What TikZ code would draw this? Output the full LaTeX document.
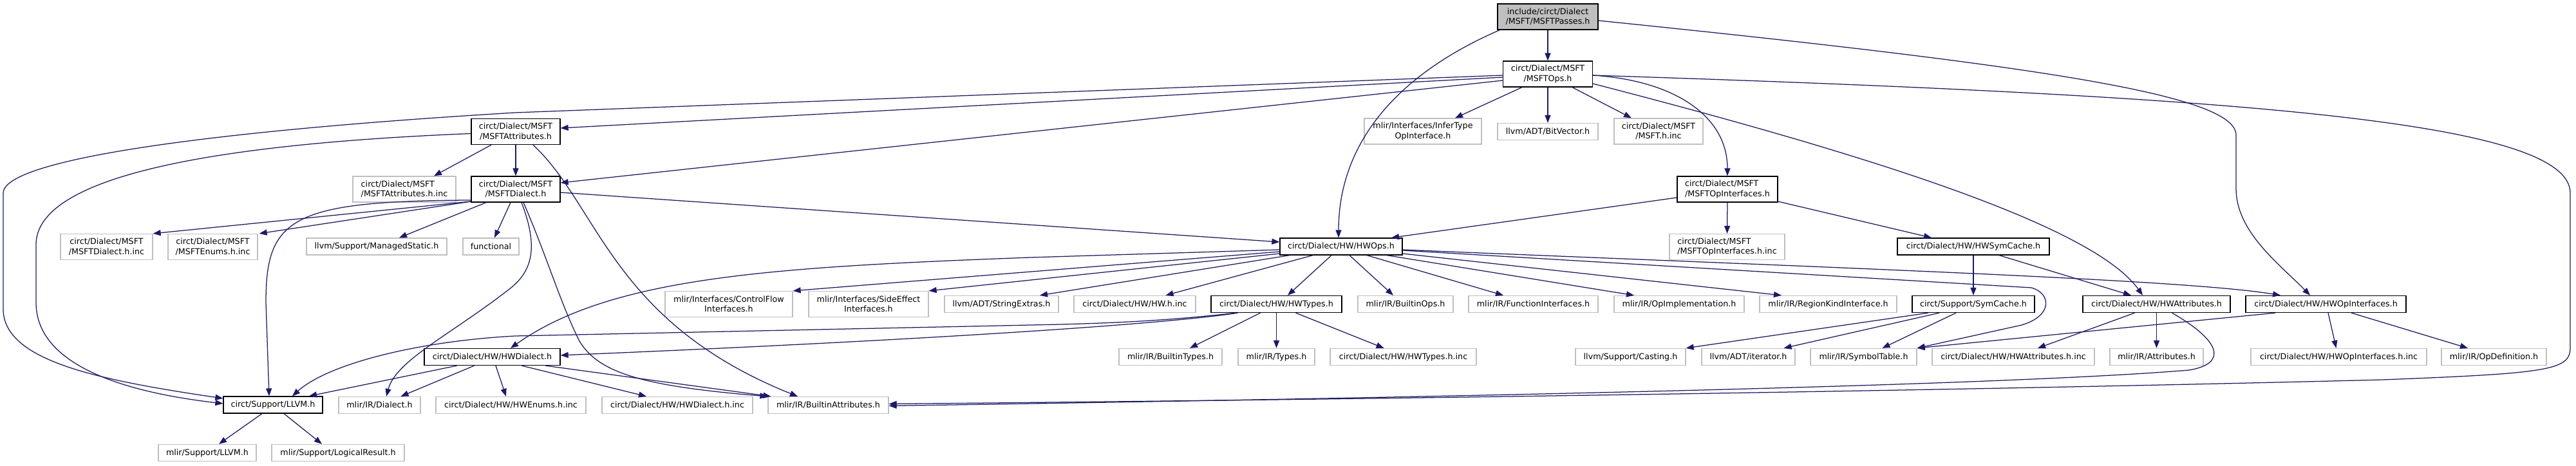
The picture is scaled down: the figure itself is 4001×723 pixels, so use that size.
\documentclass[tikz,border=0pt]{standalone}
\usepackage{fontspec}
\newfontfamily\djfont{DejaVu Sans}
\usetikzlibrary{arrows.meta}
\definecolor{mb}{HTML}{191970}
\definecolor{grey75}{HTML}{BFBFBF}
\tikzset{
  base/.style={rectangle, line width=1.26pt, inner xsep=2pt, inner ysep=1pt,
    minimum height=26pt, align=center, text=black,
    font={\djfont\fontsize{12.7}{15.5}\selectfont}},
  bn/.style={base, draw=black, fill=white},
  gn/.style={base, draw=grey75, fill=white},
  rn/.style={base, draw=black, fill=grey75},
  two/.style={minimum height=40pt},
  e/.style={draw=mb, line width=1.26pt, -{Triangle[length=12pt,width=9pt]}},
}
\begin{document}
\begin{tikzpicture}[x=1pt,y=-1pt]
\fill[white] (0,0) rectangle (4001,723);
\useasboundingbox (0,0) rectangle (4001,723);
% rank 1-3
\node[rn,two,minimum width=156pt] (root) at (2404,26) {include/circt/Dialect\\/MSFT/MSFTPasses.h};
\node[bn,two,minimum width=139pt] (ops) at (2404,115) {circt/Dialect/MSFT\\/MSFTOps.h};
\node[bn,two,minimum width=138pt] (attr) at (801,204.5) {circt/Dialect/MSFT\\/MSFTAttributes.h};
\node[gn,two,minimum width=182pt] (infer) at (2210,204) {mlir/Interfaces/InferType\\OpInterface.h};
\node[gn,minimum width=156pt] (bitvec) at (2404,204.5) {llvm/ADT/BitVector.h};
\node[gn,two,minimum width=138pt] (msfthinc) at (2576,204) {circt/Dialect/MSFT\\/MSFT.h.inc};
% rank 4
\node[gn,two,minimum width=160pt,align=left] (attrinc) at (628,294) {circt/Dialect/MSFT\\/MSFTAttributes.h.inc};
\node[bn,two,minimum width=138pt] (dialect) at (801,294) {circt/Dialect/MSFT\\/MSFTDialect.h};
\node[bn,two,minimum width=156pt,align=left] (opif) at (2683,294) {circt/Dialect/MSFT\\/MSFTOpInterfaces.h};
% rank 5
\node[gn,two,minimum width=143pt] (dialinc) at (165.5,383.5) {circt/Dialect/MSFT\\/MSFTDialect.h.inc};
\node[gn,two,minimum width=139pt] (enumsinc) at (330.5,383.5) {circt/Dialect/MSFT\\/MSFTEnums.h.inc};
\node[gn,minimum width=218pt] (managed) at (585,383) {llvm/Support/ManagedStatic.h};
\node[gn,minimum width=87pt] (functional) at (762.5,383) {functional};
\node[bn,minimum width=190pt] (hwops) at (2083,383) {circt/Dialect/HW/HWOps.h};
\node[gn,two,minimum width=179pt,align=left] (opifinc) at (2682.5,383.5) {circt/Dialect/MSFT\\/MSFTOpInterfaces.h.inc};
\node[bn,minimum width=236pt] (hwsymcache) at (3065,383) {circt/Dialect/HW/HWSymCache.h};
% rank 6
\node[gn,two,minimum width=198pt] (cf) at (1132,472.5) {mlir/Interfaces/ControlFlow\\Interfaces.h};
\node[gn,two,minimum width=186pt] (se) at (1349,472.5) {mlir/Interfaces/SideEffect\\Interfaces.h};
\node[gn,minimum width=177pt] (strext) at (1555.5,472.5) {llvm/ADT/StringExtras.h};
\node[gn,minimum width=189pt] (hwhinc) at (1762.5,472.5) {circt/Dialect/HW/HW.h.inc};
\node[bn,minimum width=203pt] (hwtypes) at (1982.5,472.5) {circt/Dialect/HW/HWTypes.h};
\node[gn,minimum width=148pt] (builtinops) at (2183,472.5) {mlir/IR/BuiltinOps.h};
\node[gn,minimum width=201pt] (funcif) at (2381.5,472.5) {mlir/IR/FunctionInterfaces.h};
\node[gn,minimum width=202pt] (opimpl) at (2608,472.5) {mlir/IR/OpImplementation.h};
\node[gn,minimum width=213pt] (regionkind) at (2839.5,472.5) {mlir/IR/RegionKindInterface.h};
\node[bn,minimum width=190pt] (symcache) at (3065,472.5) {circt/Support/SymCache.h};
\node[bn,minimum width=229pt] (hwattr) at (3349.5,472.5) {circt/Dialect/HW/HWAttributes.h};
\node[bn,minimum width=249pt] (hwopif) at (3612.5,472.5) {circt/Dialect/HW/HWOpInterfaces.h};
% rank 7
\node[bn,minimum width=211pt] (hwdialect) at (764.5,554.5) {circt/Dialect/HW/HWDialect.h};
\node[gn,minimum width=160pt] (btypes) at (1818,554.5) {mlir/IR/BuiltinTypes.h};
\node[gn,minimum width=119pt] (types) at (1982.5,554.5) {mlir/IR/Types.h};
\node[gn,minimum width=227pt] (hwtypesinc) at (2179.5,554.5) {circt/Dialect/HW/HWTypes.h.inc};
\node[gn,minimum width=171pt] (casting) at (2532.5,554.5) {llvm/Support/Casting.h};
\node[gn,minimum width=145pt] (iterator) at (2715.5,554.5) {llvm/ADT/iterator.h};
\node[gn,minimum width=165pt] (symtab) at (2894.5,554.5) {mlir/IR/SymbolTable.h};
\node[gn,minimum width=252pt] (hwattrinc) at (3127,554.5) {circt/Dialect/HW/HWAttributes.h.inc};
\node[gn,minimum width=145pt] (attrs) at (3349.5,554.5) {mlir/IR/Attributes.h};
\node[gn,minimum width=273pt] (hwopifinc) at (3632.5,554.5) {circt/Dialect/HW/HWOpInterfaces.h.inc};
\node[gn,minimum width=163pt] (opdef) at (3873.5,554.5) {mlir/IR/OpDefinition.h};
% rank 8
\node[bn,minimum width=154pt] (llvm) at (424,629) {circt/Support/LLVM.h};
\node[gn,minimum width=127pt] (irdialect) at (589.5,629.5) {mlir/IR/Dialect.h};
\node[gn,minimum width=233pt] (hwenumsinc) at (793.5,629.5) {circt/Dialect/HW/HWEnums.h.inc};
\node[gn,minimum width=234pt] (hwdialinc) at (1052,629.5) {circt/Dialect/HW/HWDialect.h.inc};
\node[gn,minimum width=187pt] (battr) at (1286.5,629.5) {mlir/IR/BuiltinAttributes.h};
% rank 9
\node[gn,minimum width=152pt] (mlirllvm) at (322,703.5) {mlir/Support/LLVM.h};
\node[gn,minimum width=206pt] (logres) at (525,703.5) {mlir/Support/LogicalResult.h};

% edges from root
\draw[e] (root.south) -- (ops.north);
\draw[e] ([xshift=4pt]root.south west) .. controls (2160,120) and (2079,230) .. ([xshift=-4pt]hwops.north);
\draw[e] ([yshift=-6pt]root.east) .. controls (3200,105) and (3473,150) .. (3473,210) -- (3473,293) .. controls (3473,360) and (3540,410) .. ([xshift=-24.5pt]hwopif.north);
% edges from MSFTOps
\draw[e] ([yshift=-5pt]ops.west) -- ([yshift=5.5pt]attr.east);
\draw[e] ([yshift=-2pt]ops.west) -- (800,175) .. controls (300,205) and (5,250) .. (5,300) -- (5,480) .. controls (5,560) and (150,590) .. ([yshift=10pt]llvm.west);
\draw[e] ([yshift=-10pt]ops.west) -- ([yshift=10pt]dialect.east);
\draw[e] ([xshift=-40pt]ops.south) -- ([xshift=50pt]infer.north);
\draw[e] (ops.south) -- (bitvec.north);
\draw[e] ([xshift=38pt]ops.south) -- ([xshift=-42pt]msfthinc.north);
\draw[e] ([yshift=-2pt]ops.east) .. controls (2600,125) and (2683,180) .. (opif.north);
\draw[e] ([yshift=-15pt]ops.east) .. controls (2900,240) and (3250,350) .. ([xshift=-21.5pt]hwattr.north);
\draw[e] ([yshift=-2pt]ops.east) .. controls (3500,150) and (3992,190) .. (3992,300) -- (3992,540) .. controls (3992,575) and (3960,580) .. (3700,590) .. controls (3000,608) and (2000,622) .. ([yshift=2pt]battr.east);
% edges from MSFTAttributes
\draw[e] ([xshift=-38pt]attr.south) -- ([xshift=46pt]attrinc.north);
\draw[e] (attr.south) -- (dialect.north);
\draw[e] ([yshift=-3pt]attr.west) .. controls (300,225) and (56,280) .. (56,380) -- (56,470) .. controls (56,570) and (200,610) .. ([yshift=2pt]llvm.west);
\draw[e] ([xshift=27pt]attr.south) .. controls (930,320) and (950,500) .. ([xshift=-47.5pt]battr.north);
% edges from MSFTDialect
\draw[e] ([yshift=-19pt]dialect.west) -- (dialinc.north east);
\draw[e] ([yshift=-19pt]dialect.west) -- ([xshift=2pt]enumsinc.north east);
\draw[e] ([yshift=-17pt]dialect.west) .. controls (450,312) and (413,340) .. (413,470) -- ([xshift=-6pt]llvm.north);
\draw[e] ([xshift=-46pt]dialect.south) -- ([xshift=35pt]managed.north);
\draw[e] ([xshift=-8pt]dialect.south) -- ([xshift=5.5pt]functional.north);
\draw[e] ([yshift=-5pt]dialect.east) -- ([yshift=7pt]hwops.west);
\draw[e] ([xshift=9pt]dialect.south) .. controls (835,380) and (830,420) .. (790,450) .. controls (700,520) and (615,560) .. ([xshift=10.5pt]irdialect.north);
\draw[e] ([xshift=12pt]dialect.south) .. controls (850,400) and (870,470) .. (900,530) .. controls (930,580) and (1000,600) .. (battr.north west);
% edges from MSFTOpInterfaces
\draw[e] ([yshift=-13pt]opif.west) -- ([xshift=78pt]hwops.north);
\draw[e] (opif.south) -- (opifinc.north);
\draw[e] ([yshift=-19pt]opif.east) -- ([xshift=-65pt]hwsymcache.north);
% edges from HWOps
\draw[e] ([yshift=-5pt]hwops.west) -- (1600,400) .. controls (1200,415) and (950,430) .. ([xshift=28.5pt]hwdialect.north);
\draw[e] ([yshift=-8pt]hwops.west) -- (cf.north east);
\draw[e] ([yshift=-11pt]hwops.west) -- (se.north east);
\draw[e] ([xshift=-80pt]hwops.south) -- ([xshift=59.5pt]strext.north);
\draw[e] ([xshift=-44pt]hwops.south) -- ([xshift=48pt]hwhinc.north);
\draw[e] ([xshift=-15pt]hwops.south) -- ([xshift=17.5pt]hwtypes.north);
\draw[e] ([xshift=13pt]hwops.south) -- ([xshift=-19pt]builtinops.north);
\draw[e] ([xshift=40pt]hwops.south) -- ([xshift=-46.5pt]funcif.north);
\draw[e] ([xshift=71pt]hwops.south) -- ([xshift=-70pt]opimpl.north);
\draw[e] ([yshift=-11pt]hwops.east) -- ([xshift=-72.5pt]regionkind.north);
\draw[e] ([yshift=-6pt]hwops.east) -- (3155,447) .. controls (3185,455) and (3190,490) .. (3140,505) -- (symtab.north east);
\draw[e] ([yshift=-5pt]hwops.east) .. controls (2900,418) and (3400,435) .. ([xshift=-70.5pt]hwopif.north);
% edges from HWTypes
\draw[e] ([xshift=-60pt]hwtypes.south) .. controls (1800,505) and (1400,530) .. ([yshift=2.5pt]hwdialect.east);
\draw[e] ([xshift=-63pt]hwtypes.south) .. controls (1800,500) and (1700,503) .. (1600,505) -- (800,522) .. controls (650,530) and (510,565) .. ([xshift=30pt]llvm.north);
\draw[e] ([xshift=-25pt]hwtypes.south) -- ([xshift=30pt]btypes.north);
\draw[e] (hwtypes.south) -- (types.north);
\draw[e] ([xshift=30pt]hwtypes.south) -- ([xshift=-30pt]hwtypesinc.north);
% edges from HWDialect
\draw[e] ([xshift=-55pt]hwdialect.south) -- ([xshift=56pt]llvm.north);
\draw[e] ([xshift=-28pt]hwdialect.south) -- ([xshift=33pt]irdialect.north);
\draw[e] ([xshift=5.5pt]hwdialect.south) -- ([xshift=-7.5pt]hwenumsinc.north);
\draw[e] ([xshift=46pt]hwdialect.south) -- ([xshift=-48pt]hwdialinc.north);
\draw[e] ([xshift=83pt]hwdialect.south) -- ([xshift=5pt]battr.north west);
% edges from circt/Support/LLVM.h
\draw[e] ([xshift=-17pt]llvm.south) -- ([xshift=18pt]mlirllvm.north);
\draw[e] ([xshift=17pt]llvm.south) -- ([xshift=-25pt]logres.north);
% edges from HWSymCache / SymCache
\draw[e] (hwsymcache.south) -- (symcache.north);
\draw[e] ([xshift=40pt]hwsymcache.south) -- ([xshift=-39.5pt]hwattr.north);
\draw[e] ([xshift=-70pt]symcache.south) -- (casting.north east);
\draw[e] ([xshift=-53pt]symcache.south) -- ([xshift=55pt]iterator.north);
\draw[e] ([xshift=-27pt]symcache.south) -- ([xshift=29pt]symtab.north);
% edges from HWAttributes
\draw[e] ([xshift=-34pt]hwattr.south) -- ([xshift=38pt]hwattrinc.north);
\draw[e] (hwattr.south) -- (attrs.north);
\draw[e] ([xshift=24pt]hwattr.south) .. controls (3450,530) and (3460,565) .. (3400,575) .. controls (3100,600) and (2200,618) .. ([yshift=-1pt]battr.east);
% edges from HWOpInterfaces
\draw[e] ([xshift=-78.5pt]hwopif.south) -- (symtab.north east);
\draw[e] ([xshift=3.5pt]hwopif.south) -- ([xshift=-4pt]hwopifinc.north);
\draw[e] ([xshift=39.5pt]hwopif.south) -- ([xshift=-40.5pt]opdef.north);
\end{tikzpicture}
\end{document}
